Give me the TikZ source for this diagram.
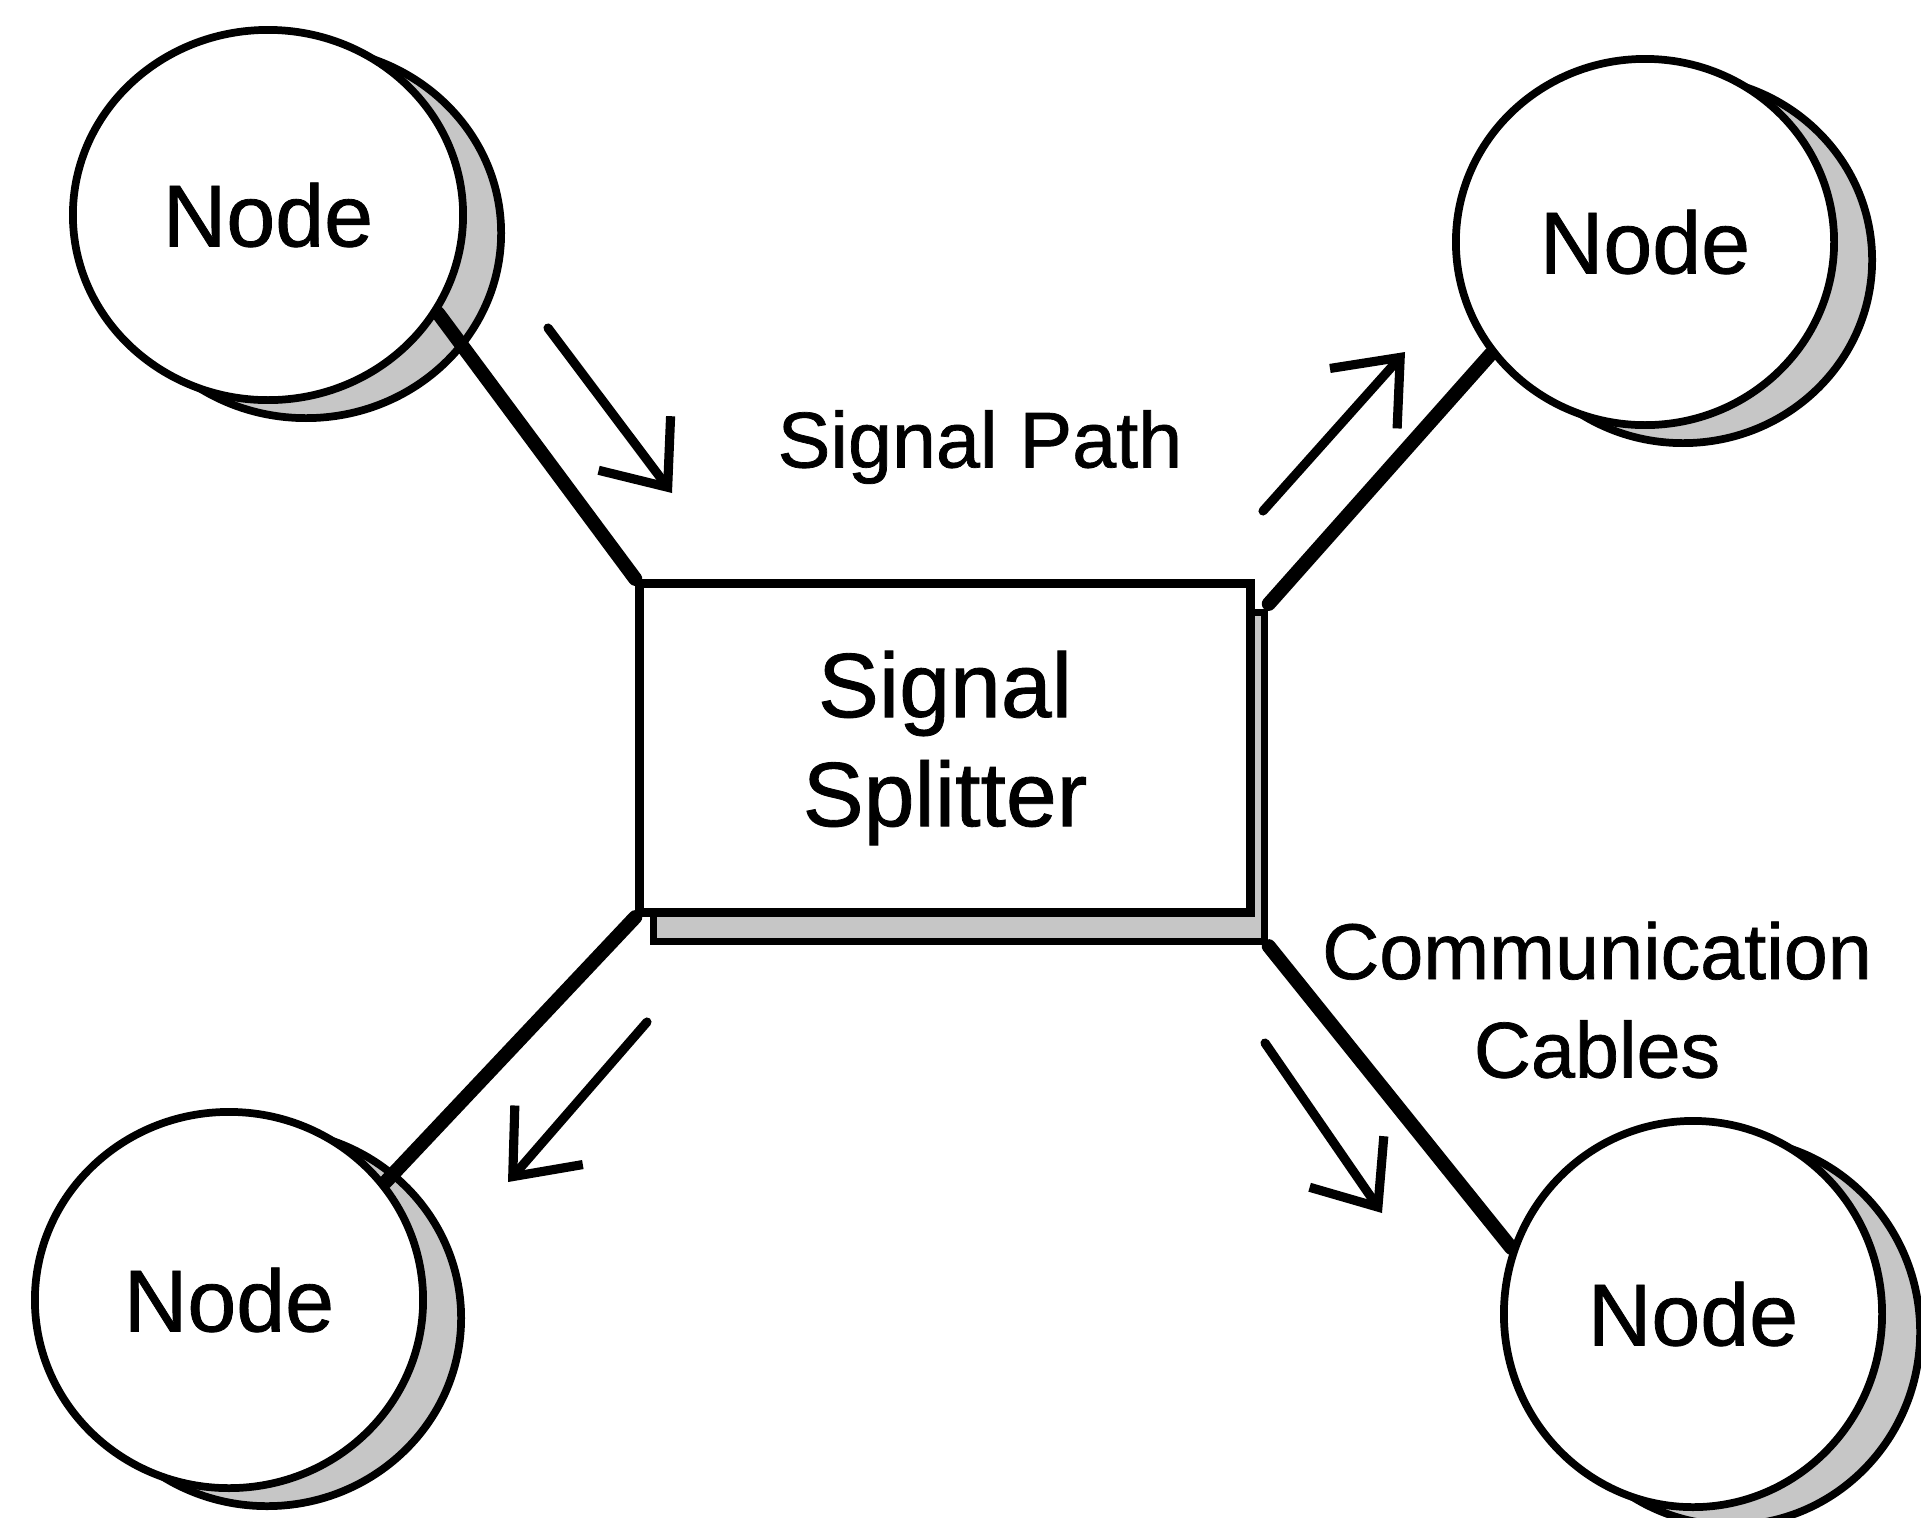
\documentclass[tikz,border=0pt]{standalone}
\usepackage{fontspec}
\setmainfont{Liberation Sans}[FakeBold=0.9]
\usetikzlibrary{shapes.geometric,shadows,arrows.meta}
\begin{document}
\begin{tikzpicture}[x=0.01cm,y=-0.01cm,
  nodecirc/.style={ellipse, draw=black, line width=2.2pt, fill=white, inner sep=0pt,
    font=\fontsize{25}{30}\selectfont,
    general shadow={shadow xshift=0.38cm, shadow yshift=-0.18cm, fill=gray!45, draw=black, line width=2.2pt}},
  splitter/.style={rectangle, draw=black, line width=2.6pt, fill=white, minimum width=6.1cm,
    minimum height=3.29cm, align=center, font=\fontsize{26}{31}\selectfont,
    general shadow={shadow xshift=0.14cm, shadow yshift=-0.29cm, fill=gray!45, draw=black, line width=2pt}},
  cable/.style={line width=4pt, line cap=round},
  flow/.style={line width=2.6pt, line cap=round, -{Straight Barb[length=5.5mm, width=9mm, line width=2.6pt]}},
  lbl/.style={font=\fontsize{22.5}{28}\selectfont, align=center}
]
\useasboundingbox (0,0) rectangle (1921,1517);

% nodes
\node[nodecirc, minimum width=3.9cm, minimum height=3.7cm] (n1) at (268,215) {Node};
\node[nodecirc, minimum width=3.78cm, minimum height=3.66cm] (n2) at (1645,242) {Node};
\node[nodecirc, minimum width=3.88cm, minimum height=3.76cm] (n3) at (229,1300) {Node};
\node[nodecirc, minimum width=3.78cm, minimum height=3.86cm] (n4) at (1693,1314) {Node};
\node[splitter] (box) at (945,748) {Signal\\Splitter};

% cables
\draw[cable] (n1.-30) -- (box.north west);
\draw[cable] (n2.216) -- ([shift={(0.14cm,-0.25cm)}]box.north east);
\draw[cable] (n3.37) -- (box.south west);
\draw[cable] (n4.160) -- ([shift={(0.14cm,-0.29cm)}]box.south east);

% signal flow arrows
\coordinate (a1s) at (548,328);  \coordinate (a1e) at (672,493);
\coordinate (a2s) at (1263,511); \coordinate (a2e) at (1405,352);
\coordinate (a3s) at (647,1022); \coordinate (a3e) at (508,1182);
\coordinate (a4s) at (1265,1043); \coordinate (a4e) at (1382,1213);
\draw[flow] (a1s) -- (a1e);
\draw[flow] (a2s) -- (a2e);
\draw[flow] (a3s) -- (a3e);
\draw[flow] (a4s) -- (a4e);

% labels
\node[lbl] (sp) at (980,447) {Signal Path};
\node[lbl] (cc) at (1597,1000) {Communication\\Cables};
\end{tikzpicture}
\end{document}
